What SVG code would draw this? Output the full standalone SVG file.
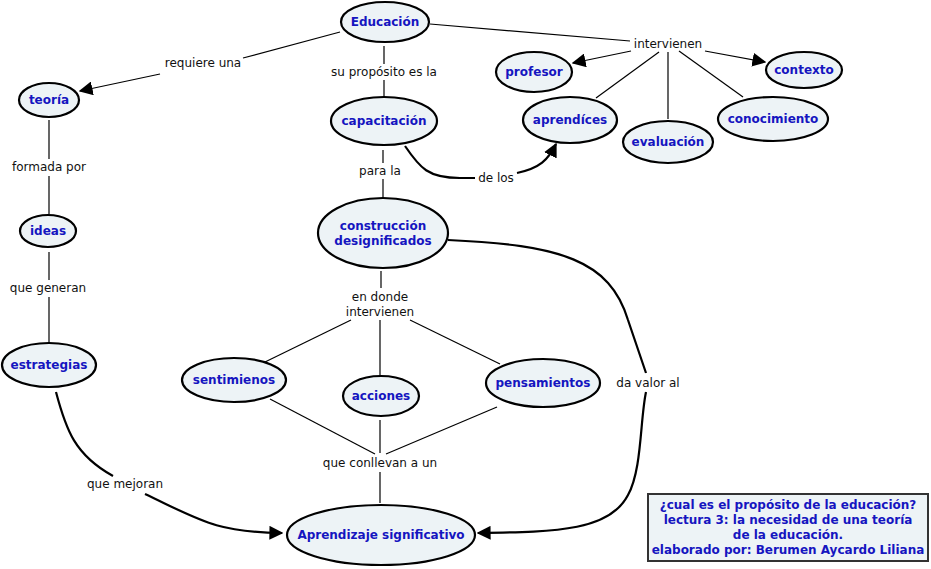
<svg xmlns="http://www.w3.org/2000/svg" width="931" height="569" viewBox="0 0 931 569">
<defs>
<marker id="ah" viewBox="0 0 10 10" refX="9" refY="5" markerWidth="14" markerHeight="14" markerUnits="userSpaceOnUse" orient="auto"><path d="M0,0 L10,5 L0,10 Z" fill="#000"/></marker>
<style>
.n ellipse{fill:#edf3f6;stroke:#000;stroke-width:2.2}
.n text{font-family:"DejaVu Sans",Verdana,sans-serif;font-weight:bold;font-size:12px;fill:#1515c0;text-anchor:middle}
.l{font-family:"DejaVu Sans",Verdana,sans-serif;font-size:12px;fill:#111;text-anchor:middle}
.c line,.c path{stroke:#000;fill:none;stroke-width:1.2}
.c .t{stroke-width:2.2}
</style>
</defs>
<rect width="931" height="569" fill="#fff"/>
<g class="c">
<line x1="340" y1="32" x2="243" y2="58"/>
<line x1="160" y1="74" x2="80" y2="91" marker-end="url(#ah)"/>
<line x1="430" y1="24" x2="630" y2="41"/>
<line x1="631" y1="51" x2="573" y2="63" marker-end="url(#ah)"/>
<line x1="705" y1="51" x2="765" y2="62" marker-end="url(#ah)"/>
<line x1="659" y1="52" x2="596" y2="98"/>
<line x1="668" y1="52" x2="668" y2="119"/>
<line x1="679" y1="51" x2="743" y2="97"/>
<line x1="384" y1="46" x2="384" y2="64"/>
<line x1="384" y1="80" x2="384" y2="96"/>
<line x1="383" y1="150" x2="383" y2="163"/>
<line x1="383" y1="179" x2="383" y2="198"/>
<path class="t" d="M405,146 C420,168 428,178 460,178 L475,178"/>
<path class="t" d="M517,173 C540,168 548,160 556,144" marker-end="url(#ah)"/>
<line x1="49" y1="120" x2="49" y2="159"/>
<line x1="49" y1="176" x2="49" y2="214"/>
<line x1="49" y1="252" x2="49" y2="280"/>
<line x1="49" y1="297" x2="49" y2="342"/>
<path class="t" d="M56,392 C66,430 75,455 113,476"/>
<path class="t" d="M145,494 C200,520 215,532 282,533" marker-end="url(#ah)"/>
<line x1="381" y1="271" x2="381" y2="288"/>
<line x1="351" y1="320" x2="265" y2="362"/>
<line x1="380" y1="320" x2="380" y2="376"/>
<line x1="410" y1="320" x2="500" y2="364"/>
<line x1="270" y1="399" x2="375" y2="454"/>
<line x1="380" y1="420" x2="380" y2="453"/>
<line x1="497" y1="407" x2="386" y2="454"/>
<line x1="380" y1="472" x2="380" y2="503"/>
<path class="t" d="M448,240 C560,245 610,260 628,320 L646,373"/>
<path class="t" d="M646,392 C640,420 642,470 628,495 C610,530 560,532 478,533" marker-end="url(#ah)"/>
</g>
<text class="l" x="203" y="67">requiere una</text>
<text class="l" x="384" y="76">su propósito es la</text>
<text class="l" x="668" y="48">intervienen</text>
<text class="l" x="49" y="171">formada por</text>
<text class="l" x="380" y="175">para la</text>
<text class="l" x="496" y="182">de los</text>
<text class="l" x="48" y="292">que generan</text>
<text class="l" x="380" y="301">en donde</text>
<text class="l" x="380" y="316">intervienen</text>
<text class="l" x="648" y="387">da valor al</text>
<text class="l" x="380" y="467">que conllevan a un</text>
<text class="l" x="125" y="488">que mejoran</text>
<g class="n" id="educacion"><ellipse cx="385" cy="22" rx="44" ry="20"/><text x="385" y="26">Educación</text></g>
<g class="n" id="teoria"><ellipse cx="49" cy="100" rx="30" ry="17"/><text x="49" y="104">teoría</text></g>
<g class="n" id="capacitacion"><ellipse cx="384" cy="121" rx="53" ry="24"/><text x="384" y="125">capacitación</text></g>
<g class="n" id="profesor"><ellipse cx="534" cy="72" rx="38" ry="20"/><text x="534" y="76">profesor</text></g>
<g class="n" id="contexto"><ellipse cx="804" cy="70" rx="38" ry="18"/><text x="804" y="74">contexto</text></g>
<g class="n" id="aprendices"><ellipse cx="570" cy="120" rx="47" ry="23"/><text x="570" y="124">aprendíces</text></g>
<g class="n" id="evaluacion"><ellipse cx="668" cy="142" rx="45" ry="21"/><text x="668" y="146">evaluación</text></g>
<g class="n" id="conocimiento"><ellipse cx="773" cy="119" rx="55" ry="22"/><text x="773" y="123">conocimiento</text></g>
<g class="n" id="ideas"><ellipse cx="48" cy="231" rx="28" ry="16"/><text x="48" y="235">ideas</text></g>
<g class="n" id="construccion"><ellipse cx="383" cy="233" rx="65" ry="35"/><text x="383" y="230">construcción</text><text x="383" y="245">designificados</text></g>
<g class="n" id="estrategias"><ellipse cx="49" cy="365" rx="47" ry="22"/><text x="49" y="369">estrategias</text></g>
<g class="n" id="sentimienos"><ellipse cx="234" cy="380" rx="52" ry="22"/><text x="234" y="384">sentimienos</text></g>
<g class="n" id="acciones"><ellipse cx="381" cy="396" rx="38" ry="20"/><text x="381" y="400">acciones</text></g>
<g class="n" id="pensamientos"><ellipse cx="543" cy="383" rx="57" ry="24"/><text x="543" y="387">pensamientos</text></g>
<g class="n" id="aprendizaje"><ellipse cx="381" cy="535" rx="94" ry="30"/><text x="381" y="539">Aprendizaje significativo</text></g>
<g class="n" id="titulo"><rect x="648" y="494" width="280" height="67" fill="#edf3f6" stroke="#333" stroke-width="2"/>
<text x="788" y="509">¿cual es el propósito de la educación?</text>
<text x="788" y="524">lectura 3: la necesidad de una teoría</text>
<text x="788" y="539">de la educación.</text>
<text x="788" y="554">elaborado por: Berumen Aycardo Liliana</text></g>
</svg>
